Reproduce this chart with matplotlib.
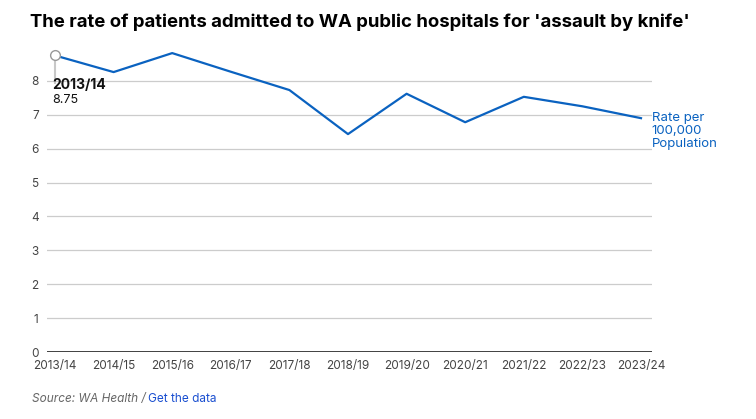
import matplotlib
matplotlib.use("Agg")
import matplotlib.pyplot as plt

years = ["2013/14", "2014/15", "2015/16", "2016/17", "2017/18", "2018/19",
         "2019/20", "2020/21", "2021/22", "2022/23", "2023/24"]
rates = [8.75, 8.26, 8.82, 8.27, 7.73, 6.43, 7.62, 6.78, 7.53, 7.25, 6.90]
yticks = [0, 1, 2, 3, 4, 5, 6, 7, 8]

plt.rcParams['font.family'] = ['Inter', 'DejaVu Sans']
blue = "#0a62c0"

fig = plt.figure(figsize=(7.56, 4.19), dpi=100)
ax = fig.add_axes([47/756, 1-352/419, (652-47)/756, (352-47)/419])
x = list(range(len(years)))
ax.plot(x, rates, color=blue, lw=1.6, zorder=3)
ax.set_xlim(-8/58.6, 10 + 11/58.6)
ax.set_ylim(0, 9)
for s in ax.spines.values():
    s.set_visible(False)
ax.set_yticks(yticks)
ax.set_yticklabels([str(t) for t in yticks])
ax.grid(axis='y', color='#cccccc', lw=0.9)
ax.axhline(0, color='#222222', lw=1.2, zorder=2)
ax.tick_params(axis='y', length=0, pad=6, labelsize=8.5, labelcolor='#444444')
ax.set_xticks(x)
ax.set_xticklabels(years)
ax.tick_params(axis='x', length=0, pad=6, labelsize=8.5, labelcolor='#444444')

# annotation on first point
ax.plot([0, 0], [rates[0], 7.95], color='#c8c8c8', lw=1.5, zorder=2)
ax.plot([0], [rates[0]], marker='o', ms=7, mfc='white', mec='#999999', mew=1, zorder=4)
ax.text(-0.05, 8.1, years[0], fontsize=10, fontweight='bold', color='#111111', va='top', ha='left')
ax.text(-0.05, 7.62, f"{rates[0]:.2f}", fontsize=9, color='#111111', va='top', ha='left')

# series label
ax.text(10.18, 7.08, "Rate per\n100,000\nPopulation", fontsize=9.5, color=blue,
        va='top', ha='left', linespacing=1.1, clip_on=False)

fig.text(30/756, 1-22/419, "The rate of patients admitted to WA public hospitals for 'assault by knife'",
         fontsize=13.4, fontweight='bold', color='#000000', va='center', ha='left')
fig.text(32/756, 1-399/419, "Source: WA Health / ", fontsize=8.5, style='italic', color='#666666',
         va='center', ha='left')
fig.text(148/756, 1-399/419, "Get the data", fontsize=8.5, color='#1a4fd0', va='center', ha='left')

fig.savefig("out.png", dpi=100)
